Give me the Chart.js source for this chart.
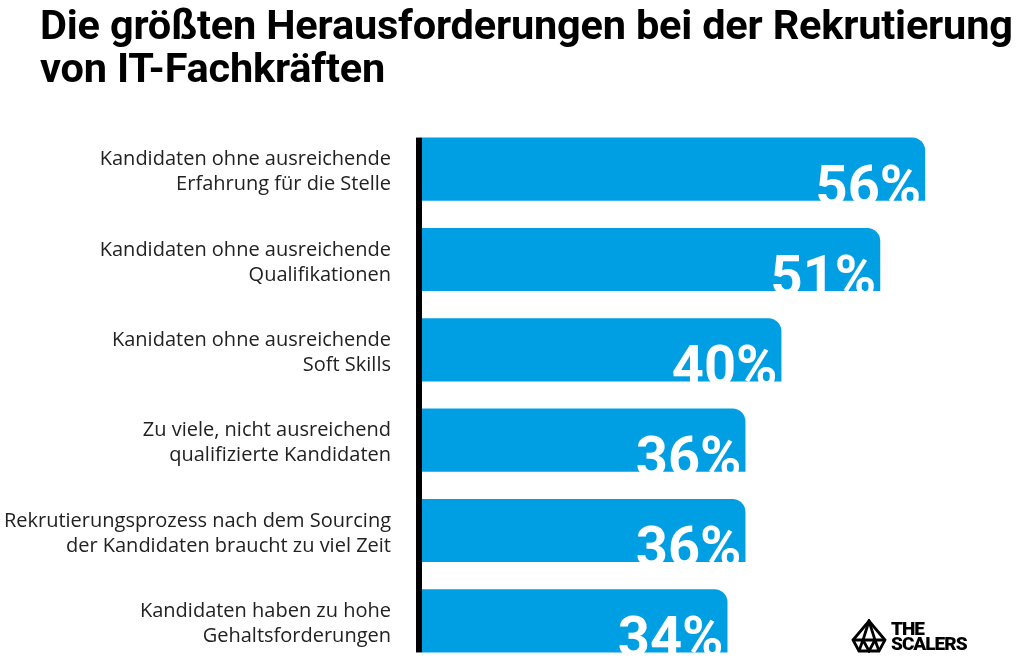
<!DOCTYPE html>
<html lang="de">
<head>
<meta charset="utf-8">
<script src="https://cdn.jsdelivr.net/npm/chart.js@4"></script>
<style>
  html, body { margin: 0; padding: 0; background: #fff; }
  #wrap { position: relative; width: 1024px; height: 668px; overflow: hidden; }
  #title {
    position: absolute; left: 40px; top: 3px; margin: 0;
    font-family: 'Roboto', sans-serif;
    font-weight: bold; font-size: 41.5px; line-height: 43px; color: #000;
    letter-spacing: -0.2px;
  }
  #logo { position: absolute; left: 850px; top: 619px; display: flex; align-items: center; }
  #logo .txt {
    font-family: 'Roboto', sans-serif; font-weight: 900;
    font-size: 19px; line-height: 15px; color: #000; margin-left: 3px; letter-spacing: -1px;
  }
  canvas { position: absolute; left: 0; top: 0; }
</style>
</head>
<body>
<div id="wrap">
  <canvas id="chart" width="1024" height="668"></canvas>
  <h1 id="title">Die größten Herausforderungen bei der Rekrutierung<br>von IT-Fachkräften</h1>
  <div id="logo">
    <svg width="38" height="34" viewBox="0 0 38 34">
      <g fill="none" stroke="#000" stroke-width="2.8" stroke-linejoin="miter">
        <path d="M19 2 L35 21 L29 32 L9 32 L3 21 Z"/>
        <path d="M3 21 L35 21 M19 2 L13 21 L19 32 L25 21 Z M9 32 L13 21 M29 32 L25 21"/>
      </g>
    </svg>
    <div class="txt">THE<br>SCALERS</div>
  </div>
</div>
<script>
// data
const categories = [
  ['Kandidaten ohne ausreichende', 'Erfahrung für die Stelle'],
  ['Kandidaten ohne ausreichende', 'Qualifikationen'],
  ['Kanidaten ohne ausreichende', 'Soft Skills'],
  ['Zu viele, nicht ausreichend', 'qualifizierte Kandidaten'],
  ['Rekrutierungsprozess nach dem Sourcing', 'der Kandidaten braucht zu viel Zeit'],
  ['Kandidaten haben zu hohe', 'Gehaltsforderungen']
];
const shares = [56, 51, 40, 36, 36, 34];

const barBlue = '#009fe3';

// black axis line, only as tall as the bars
const axisLine = {
  id: 'axisLine',
  afterDatasetsDraw(chart) {
    const bars = chart.getDatasetMeta(0).data;
    const first = bars[0], last = bars[bars.length - 1];
    const ctx = chart.ctx;
    const left = chart.chartArea.left;
    const top = first.y - first.height / 2;
    const bottom = last.y + last.height / 2;
    ctx.save();
    ctx.fillStyle = '#000';
    ctx.fillRect(left - 6, top, 6, bottom - top);
    ctx.restore();
  }
};

// big white percent labels sitting on the bar bottoms
const valueLabels = {
  id: 'valueLabels',
  afterDatasetsDraw(chart) {
    const ctx = chart.ctx;
    const bars = chart.getDatasetMeta(0).data;
    ctx.save();
    ctx.fillStyle = '#fff';
    ctx.font = 'bold 56px Roboto, sans-serif';
    ctx.textAlign = 'right';
    ctx.textBaseline = 'alphabetic';
    bars.forEach((bar, i) => {
      ctx.fillText(shares[i] + '%', bar.x - 4, bar.y + bar.height / 2 + 4);
    });
    ctx.restore();
  }
};

new Chart(document.getElementById('chart'), {
  type: 'bar',
  data: {
    labels: categories,
    datasets: [{
      data: shares,
      backgroundColor: barBlue,
      borderRadius: { topRight: 13, bottomRight: 0, topLeft: 0, bottomLeft: 0 },
      borderSkipped: 'start',
      categoryPercentage: 1,
      barPercentage: 0.7
    }]
  },
  options: {
    indexAxis: 'y',
    responsive: false,
    animation: false,
    layout: { padding: { top: 124, right: 0, bottom: 2, left: 0 } },
    plugins: {
      legend: { display: false },
      tooltip: { enabled: false }
    },
    scales: {
      x: {
        display: false,
        min: 0,
        max: 67
      },
      y: {
        afterFit(scale) {
          scale.width = 422;
          scale.paddingTop = 0;
          scale.paddingBottom = 0;
        },
        grid: { display: false, drawTicks: false },
        border: { display: false },
        ticks: {
          padding: 31,
          labelOffset: 3,
          color: '#222',
          font: { family: "'Open Sans', sans-serif", size: 20, lineHeight: 1.25 }
        }
      }
    }
  },
  plugins: [axisLine, valueLabels]
});
</script>
</body>
</html>
